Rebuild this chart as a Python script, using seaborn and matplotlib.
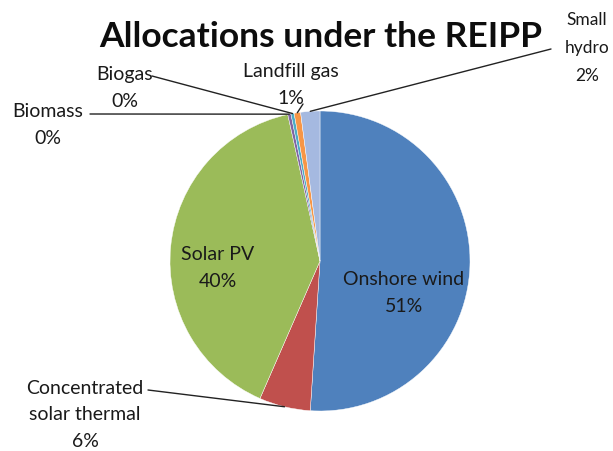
import numpy as np
import matplotlib
matplotlib.use("Agg")
import matplotlib.pyplot as plt
import seaborn as sns

categories = ["Onshore wind", "Concentrated solar thermal", "Solar PV", "Biomass",
              "Biogas", "Landfill gas", "Small hydro"]
values_mw = [1850, 200, 1450, 12.5, 12.5, 25, 75]
colors = ["#4F81BD", "#C0504D", "#9BBB59", "#8064A2", "#4BACC6", "#F79646", "#A5B9E0"]
title = "Allocations under the REIPP"

sns.set_theme(style="white")
plt.rcParams["font.family"] = ["Lato", "DejaVu Sans"]

fig = plt.figure(figsize=(6.13, 4.52), dpi=100)
ax = fig.add_axes([0, 0, 1, 1])

cx, cy, R = 320, 262, 150
wedges, _ = ax.pie(values_mw, colors=colors, startangle=-90, counterclock=True,
                   center=(cx, cy), radius=R,
                   wedgeprops=dict(edgecolor="white", linewidth=0.3))
ax.set_xlim(0, 613)
ax.set_ylim(452, 0)
ax.set_aspect("auto")
ax.axis("off")

total = sum(values_mw)
pcts = [f"{round(v / total * 100):.0f}%" for v in values_mw]

def edge_point(i, r=1.0):
    w = wedges[i]
    a = np.deg2rad((w.theta1 + w.theta2) / 2)
    return cx + R * r * np.cos(a), cy + R * r * np.sin(a)

fs = 14
lab = dict(fontsize=fs, color="#1a1a1a", ha="center", va="center", linespacing=1.68)

ax.text(321, 37, title, fontsize=25.5, fontweight="bold", ha="center", va="center", color="#0d0d0d")

# inside labels
ax.text(404, 293, f"{categories[0]}\n{pcts[0]}", **lab)
ax.text(218, 268, f"{categories[2]}\n{pcts[2]}", **lab)

# outside labels with leaders
ax.text(85, 415, "Concentrated\nsolar thermal\n" + pcts[1], **lab)
px, py = edge_point(1)
ax.plot([148, px], [391, py], color="#222222", lw=1)

ax.text(48, 125, f"{categories[3]}\n{pcts[3]}", **lab)
px, py = edge_point(3)
ax.plot([90, px], [115, py], color="#222222", lw=1)

ax.text(125, 88, f"{categories[4]}\n{pcts[4]}", **lab)
px, py = edge_point(4)
ax.plot([152, px], [77, py], color="#222222", lw=1)

ax.text(291, 85, f"{categories[5]}\n{pcts[5]}", **lab)
px, py = edge_point(5)
ax.plot([303, px], [105, py], color="#222222", lw=1)

hyd = dict(lab)
hyd["fontsize"] = 12.5
hyd["linespacing"] = 1.9
ax.text(587, 48, "Small\nhydro\n" + pcts[6], **hyd)
px, py = edge_point(6)
ax.plot([551, px], [50, py], color="#222222", lw=1)

fig.savefig("out.png", dpi=100, facecolor="white")
